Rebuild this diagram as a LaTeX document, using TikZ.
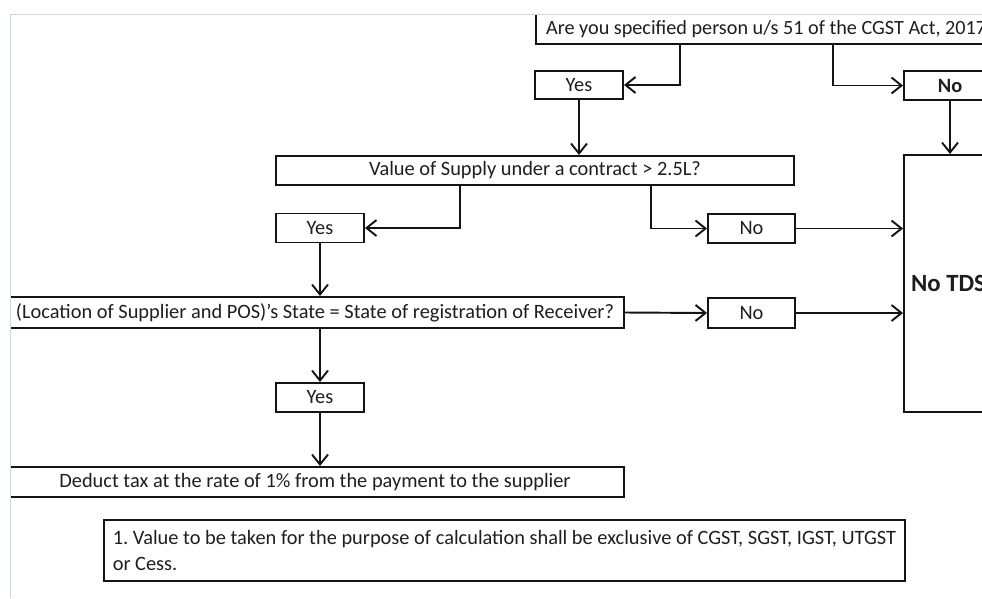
\documentclass[tikz,border=0pt]{standalone}
\usepackage{fontspec}
\setmainfont{Carlito}
\usepackage{tikz}
\usetikzlibrary{arrows.meta, positioning}
\definecolor{cellborder}{RGB}{20, 20, 20}
\definecolor{gridline}{RGB}{208, 213, 222}
\definecolor{celltext}{RGB}{30, 30, 30}
\tikzstyle{cell} = [rectangle, draw=cellborder, line width=1.1pt, inner sep=0pt,
                    text=celltext, text centered]
\tikzstyle{arrow} = [-{Straight Barb[length=2mm, width=3.2mm]}, line width=1.1pt, draw=cellborder]
\frenchspacing

\begin{document}
\begin{tikzpicture}[
    x=0.02cm, y=-0.02cm,
    every node/.style={font=\fontsize{11.6}{14.8}\selectfont}
]
    \useasboundingbox (0,0) rectangle (982,598);
    \begin{scope}
    \clip (10.5,14.5) rectangle (982,598);
    % questions and answers
    \node[cell, minimum width=12.56cm, minimum height=0.6cm, font=\fontsize{11.5}{14.8}\selectfont]
        (q1) at (850,29) {\makebox[12.16cm][l]{Are you specified person u/s 51 of the CGST Act, 2017}};
    \node[cell, minimum width=1.76cm, minimum height=0.56cm] (yes1) at (579,85) {Yes};
    \node[cell, minimum width=1.84cm, minimum height=0.58cm, font=\fontsize{11.6}{14.8}\selectfont\bfseries]
        (no1) at (950,85.5) {No};
    \node[cell, minimum width=10.36cm, minimum height=0.58cm] (q2) at (535,170.5)
        {Value of Supply under a contract > 2.5L?};
    \node[cell, minimum width=1.76cm, minimum height=0.58cm] (yes2) at (320,228) {Yes};
    \node[cell, minimum width=1.74cm, minimum height=0.58cm] (no2) at (751.5,228.5) {No};
    \node[cell, minimum width=12.36cm, minimum height=0.62cm] (q3) at (315,312.5)
        {(Location of Supplier and POS)'s State = State of registration of Receiver?};
    \node[cell, minimum width=1.74cm, minimum height=0.6cm] (no3) at (751.5,313) {No};
    \node[cell, minimum width=1.76cm, minimum height=0.58cm] (yes3) at (320,397.5) {Yes};
    \node[cell, minimum width=12.36cm, minimum height=0.6cm] (deduct) at (315,482)
        {Deduct tax at the rate of 1\% from the payment to the supplier};
    \node[cell, minimum width=1.92cm, minimum height=5.14cm,
          font=\fontsize{14.1}{16}\selectfont\bfseries] (notds) at (952,283.5)
        {\makebox[1.64cm][l]{No TDS}};
    \node[cell, minimum width=16.02cm, minimum height=1.22cm, align=left]
        (note) at (504.5,550.5)
        {1. Value to be taken for the purpose of calculation shall be exclusive of CGST, SGST, IGST, UTGST\\or Cess.};

    % connectors
    \draw[arrow] (q1.south west) ++(145,0) |- (yes1.east);
    \draw[arrow] (q1.south west) ++(298,0) |- (no1.west);
    \draw[arrow] (yes1.south) -- (yes1.south |- q2.north);
    \draw[arrow] (no1.south) -- (no1.south |- notds.north);
    \draw[arrow] (q2.south west) ++(185,0) |- (yes2.east);
    \draw[arrow] (q2.south west) ++(376,0) |- (no2.west);
    \draw[arrow] (no2.east) -- (no2.east -| notds.west);
    \draw[arrow] (yes2.south) -- (yes2.south |- q3.north);
    \draw[arrow] (q3.east) -- (no3.west);
    \draw[arrow] (no3.east) -- (no3.east -| notds.west);
    \draw[arrow] (q3.south -| yes3.north) -- (yes3.north);
    \draw[arrow] (yes3.south) -- (yes3.south |- deduct.north);
    \end{scope}
    % sheet edges
    \draw[gridline, line width=0.9pt] (10.5,598) |- (982,14.5);
\end{tikzpicture}
\end{document}
